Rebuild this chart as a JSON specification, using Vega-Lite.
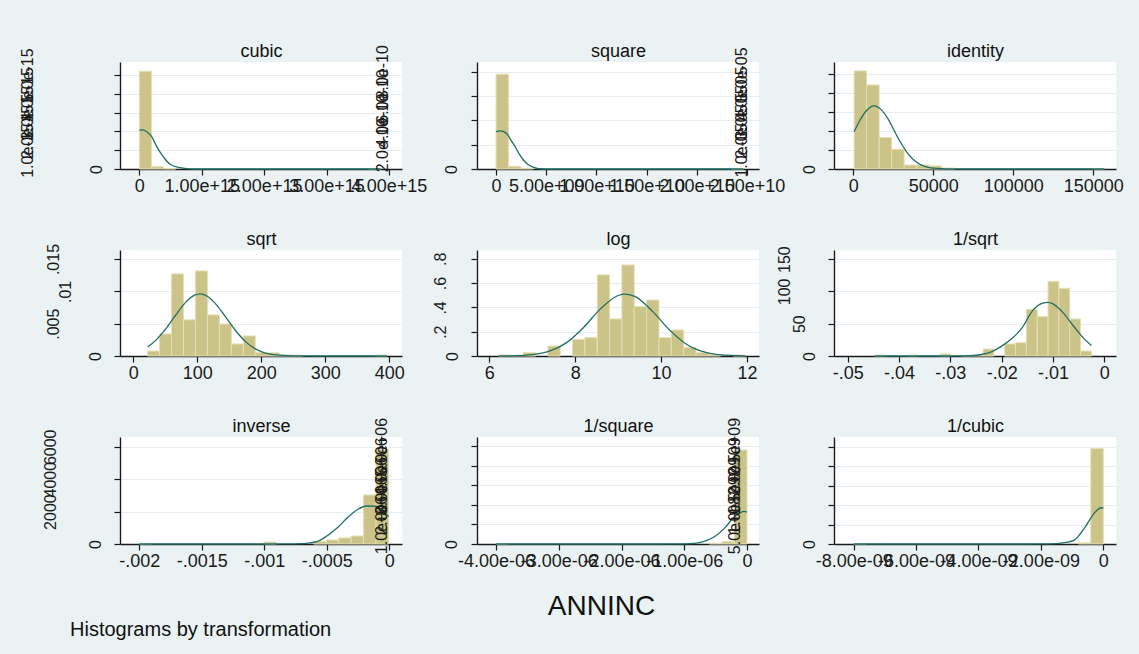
{
  "$schema": "https://vega.github.io/schema/vega-lite/v6.json",
  "background": "#EAF2F3",
  "padding": {"left": 19, "top": 42, "right": 17, "bottom": 16},
  "bounds": "flush",
  "columns": 3,
  "spacing": {"row": 81, "column": 75},
  "title": {"text": "Histograms by transformation", "orient": "bottom", "anchor": "start", "fontSize": 20, "fontWeight": "normal", "font": "Liberation Sans", "color": "#111", "offset": 0, "dx": 51, "baseline": "top"},
  "datasets": {
    "bars": [
      {"p": "cubic", "a": 0, "b": 1.935e14, "d": 5.2e-15},
      {"p": "cubic", "a": 1.935e14, "b": 3.87e14, "d": 1.2e-16},
      {"p": "cubic", "a": 3.87e14, "b": 5.805e14, "d": 2e-17},
      {"p": "cubic", "a": 3.6765e15, "b": 3.87e15, "d": 1.5e-17},
      {"p": "square", "a": 0, "b": 1.2325e9, "d": 7.8e-10},
      {"p": "square", "a": 1.2325e9, "b": 2.465e9, "d": 2.2e-11},
      {"p": "square", "a": 2.465e9, "b": 3.6975e9, "d": 5e-12},
      {"p": "square", "a": 2.3418e10, "b": 2.465e10, "d": 1e-12},
      {"p": "identity", "a": 500, "b": 8325, "d": 5.16e-5},
      {"p": "identity", "a": 8325, "b": 16150, "d": 4.42e-5},
      {"p": "identity", "a": 16150, "b": 23975, "d": 1.65e-5},
      {"p": "identity", "a": 23975, "b": 31800, "d": 1.035e-5},
      {"p": "identity", "a": 31800, "b": 39625, "d": 2.1e-6},
      {"p": "identity", "a": 39625, "b": 47450, "d": 2.1e-6},
      {"p": "identity", "a": 47450, "b": 55275, "d": 1.6e-6},
      {"p": "identity", "a": 55275, "b": 63100, "d": 5e-7},
      {"p": "identity", "a": 149175, "b": 157000, "d": 3e-7},
      {"p": "sqrt", "a": 22.36, "b": 41.05, "d": 0.00077},
      {"p": "sqrt", "a": 41.05, "b": 59.74, "d": 0.0034},
      {"p": "sqrt", "a": 59.74, "b": 78.43, "d": 0.0127},
      {"p": "sqrt", "a": 78.43, "b": 97.12, "d": 0.0056},
      {"p": "sqrt", "a": 97.12, "b": 115.81, "d": 0.01316},
      {"p": "sqrt", "a": 115.81, "b": 134.5, "d": 0.00635},
      {"p": "sqrt", "a": 134.5, "b": 153.19, "d": 0.00495},
      {"p": "sqrt", "a": 153.19, "b": 171.88, "d": 0.00186},
      {"p": "sqrt", "a": 171.88, "b": 190.57, "d": 0.0031},
      {"p": "sqrt", "a": 190.57, "b": 209.26, "d": 0.00052},
      {"p": "sqrt", "a": 209.26, "b": 227.95, "d": 0.0005},
      {"p": "sqrt", "a": 227.95, "b": 246.64, "d": 0.00015},
      {"p": "sqrt", "a": 246.64, "b": 265.33, "d": 0.00015},
      {"p": "sqrt", "a": 377.5, "b": 396.2, "d": 0.00014},
      {"p": "log", "a": 6.215, "b": 6.502, "d": 0.009},
      {"p": "log", "a": 6.502, "b": 6.79, "d": 0.005},
      {"p": "log", "a": 6.79, "b": 7.077, "d": 0.027},
      {"p": "log", "a": 7.364, "b": 7.652, "d": 0.082},
      {"p": "log", "a": 7.939, "b": 8.226, "d": 0.137},
      {"p": "log", "a": 8.226, "b": 8.514, "d": 0.151},
      {"p": "log", "a": 8.514, "b": 8.801, "d": 0.667},
      {"p": "log", "a": 8.801, "b": 9.088, "d": 0.305},
      {"p": "log", "a": 9.088, "b": 9.375, "d": 0.749},
      {"p": "log", "a": 9.375, "b": 9.663, "d": 0.406},
      {"p": "log", "a": 9.663, "b": 9.95, "d": 0.461},
      {"p": "log", "a": 9.95, "b": 10.237, "d": 0.151},
      {"p": "log", "a": 10.237, "b": 10.525, "d": 0.214},
      {"p": "log", "a": 10.525, "b": 10.812, "d": 0.071},
      {"p": "log", "a": 10.812, "b": 11.099, "d": 0.027},
      {"p": "log", "a": 11.099, "b": 11.386, "d": 0.011},
      {"p": "log", "a": 11.674, "b": 11.961, "d": 0.008},
      {"p": "1/sqrt", "a": -0.04472, "b": -0.04261, "d": 1.5},
      {"p": "1/sqrt", "a": -0.03839, "b": -0.03628, "d": 1.5},
      {"p": "1/sqrt", "a": -0.03206, "b": -0.02995, "d": 3.1},
      {"p": "1/sqrt", "a": -0.02784, "b": -0.02573, "d": 1.0},
      {"p": "1/sqrt", "a": -0.02573, "b": -0.02362, "d": 1.0},
      {"p": "1/sqrt", "a": -0.02362, "b": -0.02151, "d": 10.8},
      {"p": "1/sqrt", "a": -0.0194, "b": -0.01729, "d": 18.6},
      {"p": "1/sqrt", "a": -0.01729, "b": -0.01518, "d": 20.6},
      {"p": "1/sqrt", "a": -0.01518, "b": -0.01307, "d": 72.3},
      {"p": "1/sqrt", "a": -0.01307, "b": -0.01096, "d": 60.9},
      {"p": "1/sqrt", "a": -0.01096, "b": -0.00885, "d": 115.6},
      {"p": "1/sqrt", "a": -0.00885, "b": -0.00674, "d": 104.8},
      {"p": "1/sqrt", "a": -0.00674, "b": -0.00463, "d": 57.3},
      {"p": "1/sqrt", "a": -0.00463, "b": -0.00252, "d": 7.7},
      {"p": "inverse", "a": -0.002, "b": -0.00190032, "d": 25},
      {"p": "inverse", "a": -0.0010032, "b": -0.00090352, "d": 123},
      {"p": "inverse", "a": -0.00060448, "b": -0.0005048, "d": 144},
      {"p": "inverse", "a": -0.0005048, "b": -0.00040512, "d": 247},
      {"p": "inverse", "a": -0.00040512, "b": -0.00030544, "d": 370},
      {"p": "inverse", "a": -0.00030544, "b": -0.00020576, "d": 494},
      {"p": "inverse", "a": -0.00020576, "b": -0.00010608, "d": 3025},
      {"p": "inverse", "a": -0.00010608, "b": -0.0000064, "d": 5846},
      {"p": "1/square", "a": -4e-6, "b": -3.8e-6, "d": 12000},
      {"p": "1/square", "a": -6e-7, "b": -4e-7, "d": 40000},
      {"p": "1/square", "a": -4e-7, "b": -2e-7, "d": 120000},
      {"p": "1/square", "a": -2e-7, "b": -4e-11, "d": 4820000},
      {"p": "1/cubic", "a": -8e-9, "b": -7.6e-9, "d": 6000000},
      {"p": "1/cubic", "a": -8e-10, "b": -4e-10, "d": 30000000},
      {"p": "1/cubic", "a": -4e-10, "b": 0, "d": 2450000000}
    ],
    "curves": [
      {"p": "cubic", "x": 0, "y": 2.07e-15},
      {"p": "cubic", "x": 6e13, "y": 2.08e-15},
      {"p": "cubic", "x": 1.18e14, "y": 1.98e-15},
      {"p": "cubic", "x": 1.98e14, "y": 1.72e-15},
      {"p": "cubic", "x": 2.79e14, "y": 1.19e-15},
      {"p": "cubic", "x": 3.85e14, "y": 0.65e-15},
      {"p": "cubic", "x": 4.92e14, "y": 0.25e-15},
      {"p": "cubic", "x": 6.52e14, "y": 0.07e-15},
      {"p": "cubic", "x": 8.1e14, "y": 0.01e-15},
      {"p": "cubic", "x": 1e15, "y": 0},
      {"p": "cubic", "x": 3.87e15, "y": 0},
      {"p": "square", "x": 0, "y": 3.07e-10},
      {"p": "square", "x": 4e8, "y": 3.13e-10},
      {"p": "square", "x": 8e8, "y": 3.05e-10},
      {"p": "square", "x": 1.17e9, "y": 2.8e-10},
      {"p": "square", "x": 1.5e9, "y": 2.35e-10},
      {"p": "square", "x": 1.9e9, "y": 1.84e-10},
      {"p": "square", "x": 2.3e9, "y": 1.25e-10},
      {"p": "square", "x": 2.73e9, "y": 0.74e-10},
      {"p": "square", "x": 3.15e9, "y": 0.4e-10},
      {"p": "square", "x": 3.57e9, "y": 0.19e-10},
      {"p": "square", "x": 4e9, "y": 0.07e-10},
      {"p": "square", "x": 4.4e9, "y": 0.02e-10},
      {"p": "square", "x": 5.5e9, "y": 0},
      {"p": "square", "x": 2.465e10, "y": 0},
      {"p": "identity", "x": 500, "y": 1.96e-5},
      {"p": "identity", "x": 4000, "y": 2.54e-5},
      {"p": "identity", "x": 8000, "y": 3.05e-5},
      {"p": "identity", "x": 13100, "y": 3.32e-5},
      {"p": "identity", "x": 18000, "y": 3.07e-5},
      {"p": "identity", "x": 22000, "y": 2.6e-5},
      {"p": "identity", "x": 26000, "y": 1.95e-5},
      {"p": "identity", "x": 30000, "y": 1.34e-5},
      {"p": "identity", "x": 34000, "y": 0.82e-5},
      {"p": "identity", "x": 38000, "y": 0.46e-5},
      {"p": "identity", "x": 42000, "y": 0.23e-5},
      {"p": "identity", "x": 46000, "y": 0.1e-5},
      {"p": "identity", "x": 50000, "y": 0.043e-5},
      {"p": "identity", "x": 55000, "y": 0.012e-5},
      {"p": "identity", "x": 62000, "y": 0.002e-5},
      {"p": "identity", "x": 75000, "y": 0},
      {"p": "identity", "x": 157000, "y": 0},
      {"p": "sqrt", "x": 22.36, "y": 0.00138},
      {"p": "sqrt", "x": 35, "y": 0.00242},
      {"p": "sqrt", "x": 50, "y": 0.00411},
      {"p": "sqrt", "x": 65, "y": 0.00616},
      {"p": "sqrt", "x": 80, "y": 0.00811},
      {"p": "sqrt", "x": 95, "y": 0.00937},
      {"p": "sqrt", "x": 104.2, "y": 0.0096},
      {"p": "sqrt", "x": 115, "y": 0.00928},
      {"p": "sqrt", "x": 130, "y": 0.00792},
      {"p": "sqrt", "x": 145, "y": 0.00593},
      {"p": "sqrt", "x": 160, "y": 0.00391},
      {"p": "sqrt", "x": 175, "y": 0.00226},
      {"p": "sqrt", "x": 190, "y": 0.00114},
      {"p": "sqrt", "x": 205, "y": 0.0005},
      {"p": "sqrt", "x": 220, "y": 0.0002},
      {"p": "sqrt", "x": 240, "y": 0.00005},
      {"p": "sqrt", "x": 265, "y": 0.00001},
      {"p": "sqrt", "x": 300, "y": 0},
      {"p": "sqrt", "x": 396.2, "y": 0},
      {"p": "log", "x": 6.215, "y": 0.0004},
      {"p": "log", "x": 6.6, "y": 0.0023},
      {"p": "log", "x": 7.0, "y": 0.011},
      {"p": "log", "x": 7.4, "y": 0.04},
      {"p": "log", "x": 7.8, "y": 0.11},
      {"p": "log", "x": 8.2, "y": 0.237},
      {"p": "log", "x": 8.6, "y": 0.392},
      {"p": "log", "x": 9.0, "y": 0.498},
      {"p": "log", "x": 9.167, "y": 0.51},
      {"p": "log", "x": 9.4, "y": 0.488},
      {"p": "log", "x": 9.8, "y": 0.367},
      {"p": "log", "x": 10.2, "y": 0.213},
      {"p": "log", "x": 10.6, "y": 0.095},
      {"p": "log", "x": 11.0, "y": 0.033},
      {"p": "log", "x": 11.4, "y": 0.009},
      {"p": "log", "x": 11.961, "y": 0.0009},
      {"p": "1/sqrt", "x": -0.04472, "y": 0},
      {"p": "1/sqrt", "x": -0.03, "y": 0.02},
      {"p": "1/sqrt", "x": -0.026, "y": 0.7},
      {"p": "1/sqrt", "x": -0.024, "y": 2.3},
      {"p": "1/sqrt", "x": -0.022, "y": 6.5},
      {"p": "1/sqrt", "x": -0.02, "y": 15.3},
      {"p": "1/sqrt", "x": -0.018, "y": 27},
      {"p": "1/sqrt", "x": -0.016, "y": 44},
      {"p": "1/sqrt", "x": -0.014, "y": 69.8},
      {"p": "1/sqrt", "x": -0.012, "y": 81.9},
      {"p": "1/sqrt", "x": -0.011, "y": 83.1},
      {"p": "1/sqrt", "x": -0.01, "y": 80.7},
      {"p": "1/sqrt", "x": -0.008, "y": 66.8},
      {"p": "1/sqrt", "x": -0.006, "y": 46.4},
      {"p": "1/sqrt", "x": -0.004, "y": 27.3},
      {"p": "1/sqrt", "x": -0.00252, "y": 16.4},
      {"p": "inverse", "x": -0.002, "y": 0},
      {"p": "inverse", "x": -0.0011, "y": 0},
      {"p": "inverse", "x": -0.0009, "y": 2},
      {"p": "inverse", "x": -0.0008, "y": 6},
      {"p": "inverse", "x": -0.000714, "y": 20},
      {"p": "inverse", "x": -0.00065, "y": 60},
      {"p": "inverse", "x": -0.00058, "y": 142},
      {"p": "inverse", "x": -0.00053, "y": 330},
      {"p": "inverse", "x": -0.000488, "y": 556},
      {"p": "inverse", "x": -0.00042, "y": 969},
      {"p": "inverse", "x": -0.00034, "y": 1586},
      {"p": "inverse", "x": -0.00026, "y": 2099},
      {"p": "inverse", "x": -0.00018, "y": 2346},
      {"p": "inverse", "x": -0.000114, "y": 2330},
      {"p": "inverse", "x": -0.000074, "y": 2204},
      {"p": "inverse", "x": -0.0000064, "y": 1685},
      {"p": "1/square", "x": -4e-6, "y": 0},
      {"p": "1/square", "x": -1.5e-6, "y": 0},
      {"p": "1/square", "x": -1e-6, "y": 10000},
      {"p": "1/square", "x": -8e-7, "y": 50000},
      {"p": "1/square", "x": -6.5e-7, "y": 170000},
      {"p": "1/square", "x": -5.2e-7, "y": 370000},
      {"p": "1/square", "x": -3.6e-7, "y": 800000},
      {"p": "1/square", "x": -2e-7, "y": 1400000},
      {"p": "1/square", "x": -1e-7, "y": 1620000},
      {"p": "1/square", "x": -4e-8, "y": 1670000},
      {"p": "1/square", "x": -4e-11, "y": 1630000},
      {"p": "1/cubic", "x": -8e-9, "y": 0},
      {"p": "1/cubic", "x": -3e-9, "y": 0},
      {"p": "1/cubic", "x": -2e-9, "y": 2000000},
      {"p": "1/cubic", "x": -1.5e-9, "y": 10000000},
      {"p": "1/cubic", "x": -1.2e-9, "y": 40000000},
      {"p": "1/cubic", "x": -9.3e-10, "y": 100000000},
      {"p": "1/cubic", "x": -7.5e-10, "y": 250000000},
      {"p": "1/cubic", "x": -6.1e-10, "y": 400000000},
      {"p": "1/cubic", "x": -4.5e-10, "y": 600000000},
      {"p": "1/cubic", "x": -2.9e-10, "y": 790000000},
      {"p": "1/cubic", "x": -1.5e-10, "y": 900000000},
      {"p": "1/cubic", "x": -3e-11, "y": 930000000},
      {"p": "1/cubic", "x": 0, "y": 920000000}
    ]
  },
  "concat": [
    {
      "width": 282, "height": 107,
      "resolve": {"axis": {"x": "independent"}},
      "layer": [
        {"data": {"name": "bars"}, "transform": [{"filter": "datum.p == 'cubic'"}], "mark": {"type": "rect", "fill": "#CBC387", "stroke": "#E4DFB4", "strokeWidth": 1},
         "encoding": {
           "x": {"field": "a", "type": "quantitative", "scale": {"domain": [-3.1e14, 4.21e15], "nice": false, "zero": false}, "axis": {"values": [0, 1e15, 2e15, 3e15, 4e15], "labelExpr": "datum.value == 0 ? '0' : format(datum.value, '.2e')", "title": null, "grid": false, "labelOverlap": false, "labelPadding": 2, "labelAngle": 0, "labelAlign": "center", "labelBaseline": "top", "labelFontSize": 18}},
           "x2": {"field": "b"},
           "y": {"field": "d", "type": "quantitative", "scale": {"domain": [0, 5.69e-15], "nice": false, "zero": false}, "axis": {"values": [0, 1e-15, 2e-15, 3e-15, 4e-15, 5e-15], "labelExpr": "datum.value == 0 ? '0' : format(datum.value, '.1e')", "title": null, "grid": true, "labelOverlap": false, "labelSeparation": -1000, "labelPadding": {"condition": {"test": "datum.value == 0", "value": 13}, "value": 82}, "labelAngle": -90, "labelAlign": "center", "labelBaseline": "alphabetic", "labelFontSize": 16}},
           "y2": {"datum": 0}
         }},
        {"data": {"name": "curves"}, "transform": [{"filter": "datum.p == 'cubic'"}], "mark": {"type": "line", "color": "#1F6E66", "strokeWidth": 1.3, "interpolate": "monotone"},
         "encoding": {
           "x": {"field": "x", "type": "quantitative", "axis": {"orient": "top", "title": "cubic", "labels": false, "ticks": false, "domain": false, "grid": false, "titlePadding": 6, "titleFontSize": 18, "titleFont": "Liberation Sans", "titleFontWeight": "normal", "titleColor": "#111", "titleBaseline": "alphabetic"}},
           "y": {"field": "y", "type": "quantitative", "axis": {"values": [0, 1e-15, 2e-15, 3e-15, 4e-15, 5e-15], "labelExpr": "datum.value == 0 ? '0' : format(datum.value, '.1e')", "title": null, "grid": true, "labelOverlap": false, "labelSeparation": -1000, "labelPadding": {"condition": {"test": "datum.value == 0", "value": 13}, "value": 82}, "labelAngle": -90, "labelAlign": "center", "labelBaseline": "alphabetic", "labelFontSize": 16}}
         }}
      ]
    },
    {
      "width": 282, "height": 107,
      "resolve": {"axis": {"x": "independent"}},
      "layer": [
        {"data": {"name": "bars"}, "transform": [{"filter": "datum.p == 'square'"}], "mark": {"type": "rect", "fill": "#CBC387", "stroke": "#E4DFB4", "strokeWidth": 1},
         "encoding": {
           "x": {"field": "a", "type": "quantitative", "scale": {"domain": [-1.9e9, 2.62e10], "nice": false, "zero": false}, "axis": {"values": [0, 5e9, 1e10, 1.5e10, 2e10, 2.5e10], "labelExpr": "datum.value == 0 ? '0' : replace(format(datum.value, '.2e'), 'e+9', 'e+09')", "title": null, "grid": false, "labelOverlap": false, "labelPadding": 2, "labelAngle": 0, "labelAlign": "center", "labelBaseline": "top", "labelFontSize": 18}},
           "x2": {"field": "b"},
           "y": {"field": "d", "type": "quantitative", "scale": {"domain": [0, 8.8e-10], "nice": false, "zero": false}, "axis": {"values": [0, 2e-10, 4e-10, 6e-10, 8e-10], "labelExpr": "datum.value == 0 ? '0' : format(datum.value, '.1e')", "title": null, "grid": true, "labelOverlap": false, "labelSeparation": -1000, "labelPadding": {"condition": {"test": "datum.value == 0", "value": 15}, "value": 84}, "labelAngle": -90, "labelAlign": "center", "labelBaseline": "alphabetic", "labelFontSize": 16}},
           "y2": {"datum": 0}
         }},
        {"data": {"name": "curves"}, "transform": [{"filter": "datum.p == 'square'"}], "mark": {"type": "line", "color": "#1F6E66", "strokeWidth": 1.3, "interpolate": "monotone"},
         "encoding": {
           "x": {"field": "x", "type": "quantitative", "axis": {"orient": "top", "title": "square", "labels": false, "ticks": false, "domain": false, "grid": false, "titlePadding": 6, "titleFontSize": 18, "titleFont": "Liberation Sans", "titleFontWeight": "normal", "titleColor": "#111", "titleBaseline": "alphabetic"}},
           "y": {"field": "y", "type": "quantitative", "axis": {"values": [0, 2e-10, 4e-10, 6e-10, 8e-10], "labelExpr": "datum.value == 0 ? '0' : format(datum.value, '.1e')", "title": null, "grid": true, "labelOverlap": false, "labelSeparation": -1000, "labelPadding": {"condition": {"test": "datum.value == 0", "value": 15}, "value": 84}, "labelAngle": -90, "labelAlign": "center", "labelBaseline": "alphabetic", "labelFontSize": 16}}
         }}
      ]
    },
    {
      "width": 282, "height": 107,
      "resolve": {"axis": {"x": "independent"}},
      "layer": [
        {"data": {"name": "bars"}, "transform": [{"filter": "datum.p == 'identity'"}], "mark": {"type": "rect", "fill": "#CBC387", "stroke": "#E4DFB4", "strokeWidth": 1},
         "encoding": {
           "x": {"field": "a", "type": "quantitative", "scale": {"domain": [-12060, 164190], "nice": false, "zero": false}, "axis": {"values": [0, 50000, 100000, 150000], "title": null, "grid": false, "labelOverlap": false, "labelPadding": 2, "labelAngle": 0, "labelAlign": "center", "labelBaseline": "top", "labelFontSize": 18, "format": "d"}},
           "x2": {"field": "b"},
           "y": {"field": "d", "type": "quantitative", "scale": {"domain": [0, 5.63e-5], "nice": false, "zero": false}, "axis": {"values": [0, 1e-5, 2e-5, 3e-5, 4e-5, 5e-5], "labelExpr": "datum.value == 0 ? '0' : replace(format(datum.value, '.1e'), 'e-5', 'e-05')", "title": null, "grid": true, "labelOverlap": false, "labelSeparation": -1000, "labelPadding": {"condition": {"test": "datum.value == 0", "value": 14}, "value": 82}, "labelAngle": -90, "labelAlign": "center", "labelBaseline": "alphabetic", "labelFontSize": 16}},
           "y2": {"datum": 0}
         }},
        {"data": {"name": "curves"}, "transform": [{"filter": "datum.p == 'identity'"}], "mark": {"type": "line", "color": "#1F6E66", "strokeWidth": 1.3, "interpolate": "monotone"},
         "encoding": {
           "x": {"field": "x", "type": "quantitative", "axis": {"orient": "top", "title": "identity", "labels": false, "ticks": false, "domain": false, "grid": false, "titlePadding": 6, "titleFontSize": 18, "titleFont": "Liberation Sans", "titleFontWeight": "normal", "titleColor": "#111", "titleBaseline": "alphabetic"}},
           "y": {"field": "y", "type": "quantitative", "axis": {"values": [0, 1e-5, 2e-5, 3e-5, 4e-5, 5e-5], "labelExpr": "datum.value == 0 ? '0' : replace(format(datum.value, '.1e'), 'e-5', 'e-05')", "title": null, "grid": true, "labelOverlap": false, "labelSeparation": -1000, "labelPadding": {"condition": {"test": "datum.value == 0", "value": 14}, "value": 82}, "labelAngle": -90, "labelAlign": "center", "labelBaseline": "alphabetic", "labelFontSize": 16}}
         }}
      ]
    },
    {
      "width": 282, "height": 106,
      "resolve": {"axis": {"x": "independent"}},
      "layer": [
        {"data": {"name": "bars"}, "transform": [{"filter": "datum.p == 'sqrt'"}], "mark": {"type": "rect", "fill": "#CBC387", "stroke": "#E4DFB4", "strokeWidth": 1},
         "encoding": {
           "x": {"field": "a", "type": "quantitative", "scale": {"domain": [-20.8, 419.8], "nice": false, "zero": false}, "axis": {"values": [0, 100, 200, 300, 400], "title": null, "grid": false, "labelOverlap": false, "labelPadding": 2, "labelAngle": 0, "labelAlign": "center", "labelBaseline": "top", "labelFontSize": 18, "format": "d"}},
           "x2": {"field": "b"},
           "y": {"field": "d", "type": "quantitative", "scale": {"domain": [0, 0.0164], "nice": false, "zero": false}, "axis": {"values": [0, 0.005, 0.01, 0.015], "labelExpr": "datum.value == 0 ? '0' : datum.value == 0.01 ? '.01' : datum.value == 0.005 ? '.005' : '.015'", "title": null, "grid": true, "labelOverlap": false, "labelSeparation": -1000, "labelPadding": {"condition": [{"test": "datum.value == 0", "value": 14}, {"test": "datum.value == 0.01", "value": 44}], "value": 56}, "labelAngle": -90, "labelAlign": "center", "labelBaseline": "alphabetic", "labelFontSize": 16}},
           "y2": {"datum": 0}
         }},
        {"data": {"name": "curves"}, "transform": [{"filter": "datum.p == 'sqrt'"}], "mark": {"type": "line", "color": "#1F6E66", "strokeWidth": 1.3, "interpolate": "monotone"},
         "encoding": {
           "x": {"field": "x", "type": "quantitative", "axis": {"orient": "top", "title": "sqrt", "labels": false, "ticks": false, "domain": false, "grid": false, "titlePadding": 6, "titleFontSize": 18, "titleFont": "Liberation Sans", "titleFontWeight": "normal", "titleColor": "#111", "titleBaseline": "alphabetic"}},
           "y": {"field": "y", "type": "quantitative", "axis": {"values": [0, 0.005, 0.01, 0.015], "labelExpr": "datum.value == 0 ? '0' : datum.value == 0.01 ? '.01' : datum.value == 0.005 ? '.005' : '.015'", "title": null, "grid": true, "labelOverlap": false, "labelSeparation": -1000, "labelPadding": {"condition": [{"test": "datum.value == 0", "value": 14}, {"test": "datum.value == 0.01", "value": 44}], "value": 56}, "labelAngle": -90, "labelAlign": "center", "labelBaseline": "alphabetic", "labelFontSize": 16}}
         }}
      ]
    },
    {
      "width": 282, "height": 106,
      "resolve": {"axis": {"x": "independent"}},
      "layer": [
        {"data": {"name": "bars"}, "transform": [{"filter": "datum.p == 'log'"}], "mark": {"type": "rect", "fill": "#CBC387", "stroke": "#E4DFB4", "strokeWidth": 1},
         "encoding": {
           "x": {"field": "a", "type": "quantitative", "scale": {"domain": [5.713, 12.28], "nice": false, "zero": false}, "axis": {"values": [6, 8, 10, 12], "title": null, "grid": false, "labelOverlap": false, "labelPadding": 2, "labelAngle": 0, "labelAlign": "center", "labelBaseline": "top", "labelFontSize": 18, "format": "d"}},
           "x2": {"field": "b"},
           "y": {"field": "d", "type": "quantitative", "scale": {"domain": [0, 0.8724], "nice": false, "zero": false}, "axis": {"values": [0, 0.2, 0.4, 0.6, 0.8], "labelExpr": "datum.value == 0 ? '0' : '.' + format(datum.value * 10, 'd')", "title": null, "grid": true, "labelOverlap": false, "labelSeparation": -1000, "labelPadding": {"condition": {"test": "datum.value == 0", "value": 14}, "value": 26}, "labelAngle": -90, "labelAlign": "center", "labelBaseline": "alphabetic", "labelFontSize": 16}},
           "y2": {"datum": 0}
         }},
        {"data": {"name": "curves"}, "transform": [{"filter": "datum.p == 'log'"}], "mark": {"type": "line", "color": "#1F6E66", "strokeWidth": 1.3, "interpolate": "monotone"},
         "encoding": {
           "x": {"field": "x", "type": "quantitative", "axis": {"orient": "top", "title": "log", "labels": false, "ticks": false, "domain": false, "grid": false, "titlePadding": 6, "titleFontSize": 18, "titleFont": "Liberation Sans", "titleFontWeight": "normal", "titleColor": "#111", "titleBaseline": "alphabetic"}},
           "y": {"field": "y", "type": "quantitative", "axis": {"values": [0, 0.2, 0.4, 0.6, 0.8], "labelExpr": "datum.value == 0 ? '0' : '.' + format(datum.value * 10, 'd')", "title": null, "grid": true, "labelOverlap": false, "labelSeparation": -1000, "labelPadding": {"condition": {"test": "datum.value == 0", "value": 14}, "value": 26}, "labelAngle": -90, "labelAlign": "center", "labelBaseline": "alphabetic", "labelFontSize": 16}}
         }}
      ]
    },
    {
      "width": 282, "height": 106,
      "resolve": {"axis": {"x": "independent"}},
      "layer": [
        {"data": {"name": "bars"}, "transform": [{"filter": "datum.p == '1/sqrt'"}], "mark": {"type": "rect", "fill": "#CBC387", "stroke": "#E4DFB4", "strokeWidth": 1},
         "encoding": {
           "x": {"field": "a", "type": "quantitative", "scale": {"domain": [-0.05267, 0.00228], "nice": false, "zero": false}, "axis": {"values": [-0.05, -0.04, -0.03, -0.02, -0.01, 0], "labelExpr": "datum.value == 0 ? '0' : '-.0' + format(-datum.value * 100, 'd')", "title": null, "grid": false, "labelOverlap": false, "labelPadding": 2, "labelAngle": 0, "labelAlign": "center", "labelBaseline": "top", "labelFontSize": 18}},
           "x2": {"field": "b"},
           "y": {"field": "d", "type": "quantitative", "scale": {"domain": [0, 164.1], "nice": false, "zero": false}, "axis": {"values": [0, 50, 100, 150], "labelExpr": "format(datum.value, 'd')", "title": null, "grid": true, "labelOverlap": false, "labelSeparation": -1000, "labelPadding": {"condition": [{"test": "datum.value == 0", "value": 14}, {"test": "datum.value == 50", "value": 24}], "value": 39}, "labelAngle": -90, "labelAlign": "center", "labelBaseline": "alphabetic", "labelFontSize": 16}},
           "y2": {"datum": 0}
         }},
        {"data": {"name": "curves"}, "transform": [{"filter": "datum.p == '1/sqrt'"}], "mark": {"type": "line", "color": "#1F6E66", "strokeWidth": 1.3, "interpolate": "monotone"},
         "encoding": {
           "x": {"field": "x", "type": "quantitative", "axis": {"orient": "top", "title": "1/sqrt", "labels": false, "ticks": false, "domain": false, "grid": false, "titlePadding": 6, "titleFontSize": 18, "titleFont": "Liberation Sans", "titleFontWeight": "normal", "titleColor": "#111", "titleBaseline": "alphabetic"}},
           "y": {"field": "y", "type": "quantitative", "axis": {"values": [0, 50, 100, 150], "labelExpr": "format(datum.value, 'd')", "title": null, "grid": true, "labelOverlap": false, "labelSeparation": -1000, "labelPadding": {"condition": [{"test": "datum.value == 0", "value": 14}, {"test": "datum.value == 50", "value": 24}], "value": 39}, "labelAngle": -90, "labelAlign": "center", "labelBaseline": "alphabetic", "labelFontSize": 16}}
         }}
      ]
    },
    {
      "width": 282, "height": 107,
      "resolve": {"axis": {"x": "independent"}},
      "layer": [
        {"data": {"name": "bars"}, "transform": [{"filter": "datum.p == 'inverse'"}], "mark": {"type": "rect", "fill": "#CBC387", "stroke": "#E4DFB4", "strokeWidth": 1},
         "encoding": {
           "x": {"field": "a", "type": "quantitative", "scale": {"domain": [-0.002154, 0.0001016], "nice": false, "zero": false}, "axis": {"values": [-0.002, -0.0015, -0.001, -0.0005, 0], "labelExpr": "datum.value == 0 ? '0' : datum.value == -0.002 ? '-.002' : datum.value == -0.0015 ? '-.0015' : datum.value == -0.001 ? '-.001' : '-.0005'", "title": null, "grid": false, "labelOverlap": false, "labelPadding": 2, "labelAngle": 0, "labelAlign": "center", "labelBaseline": "top", "labelFontSize": 18}},
           "x2": {"field": "b"},
           "y": {"field": "d", "type": "quantitative", "scale": {"domain": [0, 6605], "nice": false, "zero": false}, "axis": {"values": [0, 2000, 4000, 6000], "labelExpr": "format(datum.value, 'd')", "title": null, "grid": true, "labelOverlap": false, "labelSeparation": -1000, "labelPadding": {"condition": {"test": "datum.value == 0", "value": 14}, "value": 59}, "labelAngle": -90, "labelAlign": "center", "labelBaseline": "alphabetic", "labelFontSize": 16}},
           "y2": {"datum": 0}
         }},
        {"data": {"name": "curves"}, "transform": [{"filter": "datum.p == 'inverse'"}], "mark": {"type": "line", "color": "#1F6E66", "strokeWidth": 1.3, "interpolate": "monotone"},
         "encoding": {
           "x": {"field": "x", "type": "quantitative", "axis": {"orient": "top", "title": "inverse", "labels": false, "ticks": false, "domain": false, "grid": false, "titlePadding": 6, "titleFontSize": 18, "titleFont": "Liberation Sans", "titleFontWeight": "normal", "titleColor": "#111", "titleBaseline": "alphabetic"}},
           "y": {"field": "y", "type": "quantitative", "axis": {"values": [0, 2000, 4000, 6000], "labelExpr": "format(datum.value, 'd')", "title": null, "grid": true, "labelOverlap": false, "labelSeparation": -1000, "labelPadding": {"condition": {"test": "datum.value == 0", "value": 14}, "value": 59}, "labelAngle": -90, "labelAlign": "center", "labelBaseline": "alphabetic", "labelFontSize": 16}}
         }}
      ]
    },
    {
      "width": 282, "height": 107,
      "resolve": {"axis": {"x": "independent"}},
      "layer": [
        {"data": {"name": "bars"}, "transform": [{"filter": "datum.p == '1/square'"}], "mark": {"type": "rect", "fill": "#CBC387", "stroke": "#E4DFB4", "strokeWidth": 1},
         "encoding": {
           "x": {"field": "a", "type": "quantitative", "scale": {"domain": [-4.304e-6, 1.92e-7], "nice": false, "zero": false}, "axis": {"values": [-4e-6, -3e-6, -2e-6, -1e-6, 0], "labelExpr": "datum.value == 0 ? '0' : replace(format(datum.value, '.2e'), 'e-6', 'e-06')", "title": "ANNINC", "titleFontSize": 28, "titleFontWeight": "normal", "titleFont": "Liberation Sans", "titleColor": "#111", "titlePadding": 22, "titleX": 124, "grid": false, "labelOverlap": false, "labelPadding": 2, "labelAngle": 0, "labelAlign": "center", "labelBaseline": "top", "labelFontSize": 18}},
           "x2": {"field": "b"},
           "y": {"field": "d", "type": "quantitative", "scale": {"domain": [0, 5.487e6], "nice": false, "zero": false}, "axis": {"values": [0, 1e6, 2e6, 3e6, 4e6, 5e6], "labelExpr": "datum.value == 0 ? '0' : replace(format(datum.value, '.1e'), 'e+6', 'e+06')", "title": null, "grid": true, "labelOverlap": false, "labelSeparation": -1000, "labelPadding": {"condition": {"test": "datum.value == 0", "value": 15}, "value": 85}, "labelAngle": -90, "labelAlign": "center", "labelBaseline": "alphabetic", "labelFontSize": 16}},
           "y2": {"datum": 0}
         }},
        {"data": {"name": "curves"}, "transform": [{"filter": "datum.p == '1/square'"}], "mark": {"type": "line", "color": "#1F6E66", "strokeWidth": 1.3, "interpolate": "monotone"},
         "encoding": {
           "x": {"field": "x", "type": "quantitative", "axis": {"orient": "top", "title": "1/square", "labels": false, "ticks": false, "domain": false, "grid": false, "titlePadding": 6, "titleFontSize": 18, "titleFont": "Liberation Sans", "titleFontWeight": "normal", "titleColor": "#111", "titleBaseline": "alphabetic"}},
           "y": {"field": "y", "type": "quantitative", "axis": {"values": [0, 1e6, 2e6, 3e6, 4e6, 5e6], "labelExpr": "datum.value == 0 ? '0' : replace(format(datum.value, '.1e'), 'e+6', 'e+06')", "title": null, "grid": true, "labelOverlap": false, "labelSeparation": -1000, "labelPadding": {"condition": {"test": "datum.value == 0", "value": 15}, "value": 85}, "labelAngle": -90, "labelAlign": "center", "labelBaseline": "alphabetic", "labelFontSize": 16}}
         }}
      ]
    },
    {
      "width": 282, "height": 107,
      "resolve": {"axis": {"x": "independent"}},
      "layer": [
        {"data": {"name": "bars"}, "transform": [{"filter": "datum.p == '1/cubic'"}], "mark": {"type": "rect", "fill": "#CBC387", "stroke": "#E4DFB4", "strokeWidth": 1},
         "encoding": {
           "x": {"field": "a", "type": "quantitative", "scale": {"domain": [-8.631e-9, 4.07e-10], "nice": false, "zero": false}, "axis": {"values": [-8e-9, -6e-9, -4e-9, -2e-9, 0], "labelExpr": "datum.value == 0 ? '0' : replace(format(datum.value, '.2e'), 'e-9', 'e-09')", "title": null, "grid": false, "labelOverlap": false, "labelPadding": 2, "labelAngle": 0, "labelAlign": "center", "labelBaseline": "top", "labelFontSize": 18}},
           "x2": {"field": "b"},
           "y": {"field": "d", "type": "quantitative", "scale": {"domain": [0, 2.744e9], "nice": false, "zero": false}, "axis": {"values": [0, 5e8, 1e9, 1.5e9, 2e9, 2.5e9], "labelExpr": "datum.value == 0 ? '0' : replace(replace(format(datum.value, '.1e'), 'e+8', 'e+08'), 'e+9', 'e+09')", "title": null, "grid": true, "labelOverlap": false, "labelSeparation": -1000, "labelPadding": {"condition": {"test": "datum.value == 0", "value": 14}, "value": 89}, "labelAngle": -90, "labelAlign": "center", "labelBaseline": "alphabetic", "labelFontSize": 16}},
           "y2": {"datum": 0}
         }},
        {"data": {"name": "curves"}, "transform": [{"filter": "datum.p == '1/cubic'"}], "mark": {"type": "line", "color": "#1F6E66", "strokeWidth": 1.3, "interpolate": "monotone"},
         "encoding": {
           "x": {"field": "x", "type": "quantitative", "axis": {"orient": "top", "title": "1/cubic", "labels": false, "ticks": false, "domain": false, "grid": false, "titlePadding": 6, "titleFontSize": 18, "titleFont": "Liberation Sans", "titleFontWeight": "normal", "titleColor": "#111", "titleBaseline": "alphabetic"}},
           "y": {"field": "y", "type": "quantitative", "axis": {"values": [0, 5e8, 1e9, 1.5e9, 2e9, 2.5e9], "labelExpr": "datum.value == 0 ? '0' : replace(replace(format(datum.value, '.1e'), 'e+8', 'e+08'), 'e+9', 'e+09')", "title": null, "grid": true, "labelOverlap": false, "labelSeparation": -1000, "labelPadding": {"condition": {"test": "datum.value == 0", "value": 14}, "value": 89}, "labelAngle": -90, "labelAlign": "center", "labelBaseline": "alphabetic", "labelFontSize": 16}}
         }}
      ]
    }
  ],
  "config": {
    "view": {"fill": "white", "stroke": null},
    "font": "Liberation Sans",
    "locale": {"number": {"decimal": ".", "thousands": ",", "grouping": [3], "currency": ["$", ""], "minus": "-"}},
    "axis": {"domainColor": "#1a1a1a", "domainWidth": 1.4, "tickColor": "#1a1a1a", "tickWidth": 1.2, "tickSize": 6, "labelColor": "#1a1a1a", "labelFont": "Liberation Sans", "labelOverlap": false, "labelFlush": false, "labelBound": false, "gridColor": "#E6EDEF", "gridWidth": 1}
  }
}
